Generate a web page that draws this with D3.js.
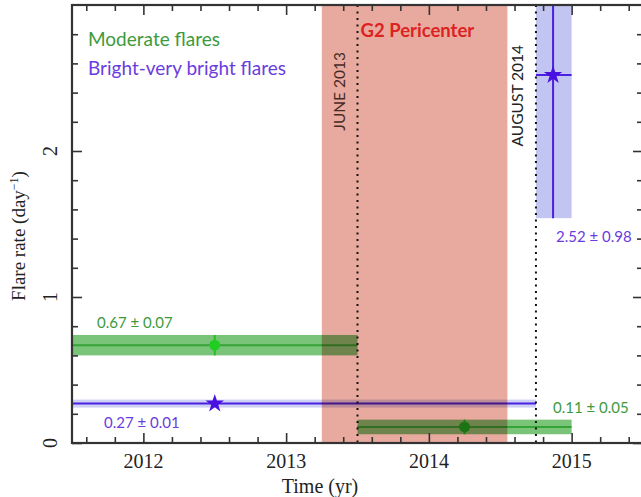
<!DOCTYPE html>
<html><head><meta charset="utf-8">
<script src="https://cdn.jsdelivr.net/npm/d3@7"></script>
<style>
html,body{margin:0;padding:0;background:#fff;}
svg{display:block;}
</style></head>
<body>
<svg id="c" width="641" height="497"></svg>
<script>
// ---- data ----
const xDomain = [2011.5, 2015.5];
const yDomain = [0, 3];
const xTicks = [2012, 2013, 2014, 2015];
const yTicks = [0, 1, 2];
// moderate flares: [start, end, point time, rate, error]
const moderateStart = [2011.5, 2013.5];
const moderateEnd   = [2013.5, 2015.0];
const moderateTime  = [2012.5, 2014.25];
const moderateRate  = [0.67, 0.11];
const moderateErr   = [0.07, 0.05];
// bright-very bright flares
const brightStart = [2011.5, 2014.75];
const brightEnd   = [2014.75, 2015.0];
const brightTime  = [2012.5, 2014.87];
const brightRate  = [0.27, 2.52];
const brightErr   = [0.01, 0.98];
const rateLabels = ["0.67 ± 0.07", "0.11 ± 0.05"];
const brightLabels = ["0.27 ± 0.01", "2.52 ± 0.98"];
const pericenter = [2013.25, 2014.55];
const markerDates = [2013.5, 2014.75];
const markerNames = ["JUNE 2013", "AUGUST 2014"];

// ---- layout ----
const L = 72, R = 643, T = 5, B = 443;
const svg = d3.select("#c");
const x = d3.scaleLinear().domain(xDomain).range([L, R]);
const y = d3.scaleLinear().domain(yDomain).range([B, T]);

const green = "#36a336", greenBand = "rgba(40,160,40,0.62)", greenText = "#3c9a3c";
const blue = "#4b20e0", blueBand = "#c2c5f1", blueText = "#6a3ce0";
const sans = "Lato, 'Open Sans', sans-serif";
const serif = "'Liberation Serif', 'DejaVu Serif', serif";

svg.append("defs").append("clipPath").attr("id","clip")
  .append("rect").attr("x",L).attr("y",T).attr("width",R-L).attr("height",B-T);
const g = svg.append("g").attr("clip-path","url(#clip)");

// bright flares bands
brightStart.forEach((s,i)=>{
  const h = Math.max(y(brightRate[i]-brightErr[i]) - y(brightRate[i]+brightErr[i]), 8);
  const cy = y(brightRate[i]);
  g.append("rect").attr("x",x(s)).attr("width",x(brightEnd[i])-x(s))
    .attr("y", i===0 ? cy-h/2 : y(brightRate[i]+brightErr[i]))
    .attr("height", i===0 ? h : y(brightRate[i]-brightErr[i]) - y(brightRate[i]+brightErr[i]))
    .attr("fill", blueBand).attr("opacity", i===0?0.8:1);
});
// moderate flares bands
moderateStart.forEach((s,i)=>{
  g.append("rect").attr("x",x(s)).attr("width",x(moderateEnd[i])-x(s))
    .attr("y",y(moderateRate[i]+moderateErr[i]))
    .attr("height",y(moderateRate[i]-moderateErr[i])-y(moderateRate[i]+moderateErr[i]))
    .attr("fill",greenBand);
  g.append("line").attr("x1",x(s)).attr("x2",x(moderateEnd[i]))
    .attr("y1",y(moderateRate[i])).attr("y2",y(moderateRate[i]))
    .attr("stroke",green).attr("stroke-width",2);
  g.append("line").attr("x1",x(moderateTime[i])).attr("x2",x(moderateTime[i]))
    .attr("y1",y(moderateRate[i]+moderateErr[i])).attr("y2",y(moderateRate[i]-moderateErr[i]))
    .attr("stroke","#22c022").attr("stroke-width",2);
  g.append("circle").attr("cx",x(moderateTime[i])).attr("cy",y(moderateRate[i])).attr("r",5.5)
    .attr("fill", i===0 ? "#22cc22" : "#1fae1f");
});
// bright flares lines and stars
brightStart.forEach((s,i)=>{
  g.append("line").attr("x1",x(s)).attr("x2",x(brightEnd[i]))
    .attr("y1",y(brightRate[i])).attr("y2",y(brightRate[i]))
    .attr("stroke",blue).attr("stroke-width",2);
  g.append("line").attr("x1",x(brightTime[i])).attr("x2",x(brightTime[i]))
    .attr("y1",y(brightRate[i]+brightErr[i])).attr("y2",y(brightRate[i]-brightErr[i]))
    .attr("stroke",blue).attr("stroke-width",2);
  g.append("path").attr("d", d3.symbol().type(d3.symbolStar).size(105)())
    .attr("transform",`translate(${x(brightTime[i])},${y(brightRate[i])})`)
    .attr("fill","#4a10e0");
});
// G2 pericenter shading (multiplied over the bands)
g.append("rect").attr("x",x(pericenter[0])).attr("width",x(pericenter[1])-x(pericenter[0]))
  .attr("y",T).attr("height",B-T).attr("fill","#e8aa9f")
  .style("mix-blend-mode","multiply");

// dotted date markers
markerDates.forEach((d,i)=>{
  svg.append("line").attr("x1",x(d)).attr("x2",x(d)).attr("y1",T).attr("y2",B)
    .attr("stroke","#111").attr("stroke-width",2).attr("stroke-dasharray","2,4.5");
  const tx = x(d) - 13, ty = i===0 ? 52 : 45;
  svg.append("text").attr("transform",`translate(${tx},${ty}) rotate(-90)`)
    .attr("text-anchor","end").attr("font-family",sans).attr("font-size",15.5)
    .attr("fill", i===0 ? "#4a2a24" : "#222").text(markerNames[i]);
});
svg.append("text").attr("x",x(markerDates[0])+3).attr("y",37)
  .attr("font-family",sans).attr("font-weight","bold").attr("font-size",18.5)
  .attr("fill","#dd2222").text("G2 Pericenter");

// axes
const axCol = "#333";
function ticks(axisGen, transform){
  const a = svg.append("g").attr("transform",transform).call(axisGen);
  a.select(".domain").remove();
  a.selectAll("line").attr("stroke",axCol).attr("stroke-width",1.6);
  a.selectAll("text").remove();
  return a;
}
const xMinor = d3.range(2011.6, 2015.5, 0.2).filter(v=>Math.abs(v-Math.round(v))>0.01);
const yMinor = d3.range(0.2, 3.0, 0.2).filter(v=>Math.abs(v-Math.round(v))>0.01);
ticks(d3.axisTop(x).tickValues(xTicks).tickSize(10), `translate(0,${B})`);
ticks(d3.axisTop(x).tickValues(xMinor).tickSize(6), `translate(0,${B})`);
ticks(d3.axisBottom(x).tickValues(xTicks).tickSize(10), `translate(0,${T})`);
ticks(d3.axisBottom(x).tickValues(xMinor).tickSize(6), `translate(0,${T})`);
ticks(d3.axisRight(y).tickValues(yTicks).tickSize(10), `translate(${L},0)`);
ticks(d3.axisRight(y).tickValues(yMinor).tickSize(6), `translate(${L},0)`);
ticks(d3.axisLeft(y).tickValues(yTicks).tickSize(10), `translate(${R},0)`);
ticks(d3.axisLeft(y).tickValues(yMinor).tickSize(6), `translate(${R},0)`);
svg.append("rect").attr("x",L).attr("y",T).attr("width",R-L).attr("height",B-T)
  .attr("fill","none").attr("stroke",axCol).attr("stroke-width",2.2);

// tick labels
svg.selectAll(".xl").data(xTicks).enter().append("text")
  .attr("x",d=>x(d)).attr("y",468).attr("text-anchor","middle")
  .attr("font-family",serif).attr("font-size",20).attr("fill","#222").text(d=>d);
svg.selectAll(".yl").data(yTicks).enter().append("text")
  .attr("transform",d=>`translate(57,${y(d)}) rotate(-90)`).attr("text-anchor","middle")
  .attr("font-family",serif).attr("font-size",20).attr("fill","#222").text(d=>d);
svg.append("text").attr("x",320).attr("y",493).attr("text-anchor","middle")
  .attr("font-family",serif).attr("font-size",20).attr("fill","#222").text("Time (yr)");
const yl = svg.append("text").attr("transform","translate(25,236) rotate(-90)")
  .attr("text-anchor","middle").attr("font-family",serif).attr("font-size",19).attr("fill","#222");
yl.append("tspan").text("Flare rate (day");
yl.append("tspan").attr("dy",-7).attr("font-size",12).text("−1");
yl.append("tspan").attr("dy",7).text(")");

// legend texts
svg.append("text").attr("x",88).attr("y",46).attr("font-family",sans).attr("font-size",19)
  .attr("fill",greenText).text("Moderate flares");
svg.append("text").attr("x",88).attr("y",75).attr("font-family",sans).attr("font-size",19)
  .attr("fill",blueText).text("Bright-very bright flares");

// value annotations
const labelPos = {m:[[97,328],[553,413]], b:[[104,428],[556,242]]};
rateLabels.forEach((t,i)=>svg.append("text").attr("x",labelPos.m[i][0]).attr("y",labelPos.m[i][1])
  .attr("font-family",sans).attr("font-size",15).attr("fill",greenText).text(t));
brightLabels.forEach((t,i)=>svg.append("text").attr("x",labelPos.b[i][0]).attr("y",labelPos.b[i][1])
  .attr("font-family",sans).attr("font-size",15).attr("fill",blueText).text(t));
</script>
</body></html>
